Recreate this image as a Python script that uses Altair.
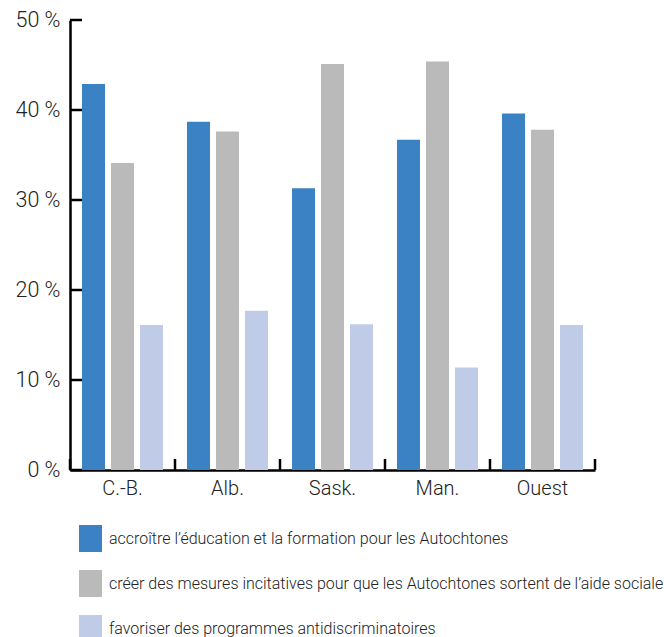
import altair as alt
import pandas as pd

regions = ["C.-B.", "Alb.", "Sask.", "Man.", "Ouest"]
series = [
    "accroître l’éducation et la formation pour les Autochtones",
    "créer des mesures incitatives pour que les Autochtones sortent de l’aide sociale",
    "favoriser des programmes antidiscriminatoires",
]
education = [42.9, 38.7, 31.3, 36.7, 39.6]
incitatives = [34.1, 37.6, 45.1, 45.4, 37.8]
antidiscrimination = [16.1, 17.7, 16.2, 11.4, 16.1]
y_ticks = [0, 10, 20, 30, 40, 50]
colors = ["#3B82C4", "#BABABA", "#C0CBE8"]

rows = []
for vals, s in zip([education, incitatives, antidiscrimination], series):
    for r, v in zip(regions, vals):
        rows.append({"region": r, "serie": s, "value": v})
df = pd.DataFrame(rows)
ticks_df = pd.DataFrame({"value": y_ticks})
xt_df = pd.DataFrame({"region": regions})
xt_last = pd.DataFrame({"region": [regions[-1]]})

FONT = "Roboto"
H = 450

xscale = alt.Scale(domain=regions, paddingInner=0, paddingOuter=0)
yscale = alt.Scale(domain=[0, 50], nice=False)

bars = alt.Chart(df).mark_bar().encode(
    x=alt.X("region:N", scale=xscale, sort=regions,
            axis=alt.Axis(title=None, labelAngle=0, ticks=False, domain=True,
                          domainColor="#000", domainWidth=2.5, labelFontSize=20,
                          labelFont=FONT, labelFontWeight=300, labelColor="#222",
                          labelPadding=8)),
    xOffset=alt.XOffset("serie:N", sort=series,
                        scale=alt.Scale(paddingInner=0.207, paddingOuter=0.414)),
    y=alt.Y("value:Q", scale=yscale,
            axis=alt.Axis(title=None, values=y_ticks, labelExpr="datum.value + ' %'",
                          ticks=False, grid=False, domainColor="#000", domainWidth=2.5,
                          labelFontSize=21.5, labelFont=FONT, labelFontWeight=300,
                          labelColor="#222", labelPadding=10)),
    color=alt.Color("serie:N", sort=series,
                    scale=alt.Scale(domain=series, range=colors),
                    legend=alt.Legend(title=None, orient="none", legendX=7, legendY=505,
                                      direction="vertical",
                                      symbolType="M-0.85,-1H0.85V1H-0.85Z",
                                      symbolSize=729, symbolStrokeWidth=0,
                                      symbolOpacity=1,
                                      labelFontSize=16, labelFont=FONT,
                                      labelFontWeight=300, labelColor="#222",
                                      labelOffset=5, rowPadding=18, padding=0,
                                      labelLimit=700)),
)

ytick_rules = alt.Chart(ticks_df).mark_rule(color="#000", strokeWidth=2.5).encode(
    y=alt.Y("value:Q", scale=yscale),
    x=alt.value(0),
    x2=alt.value(12),
)

xtick_rules = alt.Chart(xt_df).mark_rule(color="#000", strokeWidth=2.5).encode(
    x=alt.X("region:N", scale=xscale, sort=regions, bandPosition=0),
    y=alt.value(H - 11),
    y2=alt.value(H),
)
xtick_end = alt.Chart(xt_last).mark_rule(color="#000", strokeWidth=2.5).encode(
    x=alt.X("region:N", scale=xscale, sort=regions, bandPosition=1),
    y=alt.value(H - 11),
    y2=alt.value(H),
)

chart = alt.layer(bars, ytick_rules, xtick_rules, xtick_end).properties(
    width=525, height=H,
    padding={"left": 70, "top": 20, "right": 69, "bottom": 167},
    autosize=alt.AutoSizeParams(type="none"),
).configure_view(strokeWidth=0)

chart.save("out.html", embed_options={"renderer": "svg", "actions": False})
